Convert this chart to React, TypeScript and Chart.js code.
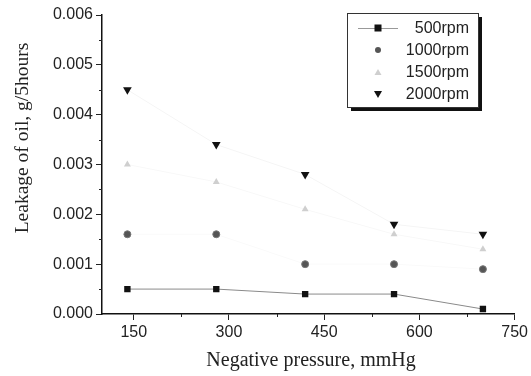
import React, { useEffect, useRef } from "react";
import { Chart, registerables } from "chart.js";

Chart.register(...registerables);

const pressures = [140, 280, 420, 560, 700];
const rpm500 = [0.0005, 0.0005, 0.0004, 0.0004, 0.0001];
const rpm1000 = [0.0016, 0.0016, 0.001, 0.001, 0.0009];
const rpm1500 = [0.003, 0.00265, 0.0021, 0.0016, 0.0013];
const rpm2000 = [0.0045, 0.0034, 0.0028, 0.0018, 0.0016];
const seriesNames = ["500rpm", "1000rpm", "1500rpm", "2000rpm"];
const xTitle = "Negative pressure, mmHg";
const yTitle = "Leakage of oil, g/5hours";

const toPts = (ys: number[]) => pressures.map((x, i) => ({ x, y: ys[i] }));

const decorPlugin = {
  id: "decor",
  afterDraw(chart: any) {
    const ctx = chart.ctx;
    const xs = chart.scales.x;
    const ys = chart.scales.y;
    const ca = chart.chartArea;
    ctx.save();
    // minor ticks
    ctx.strokeStyle = "#222";
    ctx.lineWidth = 1;
    for (let v = 225; v < 750; v += 150) {
      const px = Math.round(xs.getPixelForValue(v)) + 0.5;
      ctx.beginPath();
      ctx.moveTo(px, ca.bottom);
      ctx.lineTo(px, ca.bottom + 3);
      ctx.stroke();
    }
    for (let v = 0.0005; v < 0.006; v += 0.001) {
      const py = Math.round(ys.getPixelForValue(v)) + 0.5;
      ctx.beginPath();
      ctx.moveTo(ca.left, py);
      ctx.lineTo(ca.left - 3, py);
      ctx.stroke();
    }
    // axis titles
    ctx.fillStyle = "#222";
    ctx.font = "20px 'Liberation Serif', serif";
    ctx.textAlign = "center";
    ctx.textBaseline = "middle";
    ctx.fillText(xTitle, 311, 361);
    ctx.save();
    ctx.translate(23, 138);
    ctx.rotate(-Math.PI / 2);
    ctx.font = "19.5px 'Liberation Serif', serif";
    ctx.fillText(yTitle, 0, 0);
    ctx.restore();

    // legend
    const bx = 347, by = 13, bw = 131, bh = 94;
    ctx.fillStyle = "#111";
    ctx.fillRect(bx + 4, by + 4, bw, bh);
    ctx.fillStyle = "#fff";
    ctx.fillRect(bx, by, bw, bh);
    ctx.strokeStyle = "#333";
    ctx.lineWidth = 1;
    ctx.strokeRect(bx + 0.5, by + 0.5, bw, bh);
    const rowsY = [28, 50, 72, 94];
    const mx = 378;
    ctx.font = "16px 'Liberation Sans', Arial, sans-serif";
    ctx.textAlign = "right";
    ctx.textBaseline = "middle";
    rowsY.forEach((ry, i) => {
      if (i === 0) {
        ctx.strokeStyle = "#999";
        ctx.beginPath();
        ctx.moveTo(358, ry + 0.5);
        ctx.lineTo(398, ry + 0.5);
        ctx.stroke();
      }
      const ds = chart.data.datasets[i];
      ctx.fillStyle = ds.pointBackgroundColor;
      if (i === 0) {
        ctx.fillRect(mx - 3.5, ry - 3.5, 7, 7);
      } else if (i === 1) {
        ctx.beginPath();
        ctx.arc(mx, ry, 3, 0, Math.PI * 2);
        ctx.fill();
      } else if (i === 2) {
        ctx.beginPath();
        ctx.moveTo(mx, ry - 3);
        ctx.lineTo(mx + 3.5, ry + 3);
        ctx.lineTo(mx - 3.5, ry + 3);
        ctx.closePath();
        ctx.fill();
      } else {
        ctx.beginPath();
        ctx.moveTo(mx, ry + 4);
        ctx.lineTo(mx + 4, ry - 3);
        ctx.lineTo(mx - 4, ry - 3);
        ctx.closePath();
        ctx.fill();
      }
      ctx.fillStyle = "#222";
      ctx.fillText(seriesNames[i], 469, ry + 1);
    });
    ctx.restore();
  },
};

export default function App() {
  const ref = useRef<HTMLCanvasElement>(null);
  useEffect(() => {
    document.body.style.margin = "0";
    const tickFont = { family: "'Liberation Sans', Arial, sans-serif", size: 16 };
    const chart = new Chart(ref.current!, {
      type: "scatter",
      data: {
        datasets: [
          {
            label: seriesNames[0],
            data: toPts(rpm500),
            showLine: true,
            borderColor: "#8a8a8a",
            borderWidth: 1,
            pointStyle: "rect",
            pointRadius: 4.5,
            pointBackgroundColor: "#111",
            pointBorderColor: "#111",
            pointBorderWidth: 0,
          },
          {
            label: seriesNames[1],
            data: toPts(rpm1000),
            showLine: true,
            borderColor: "#fafafa",
            borderWidth: 1,
            pointStyle: "circle",
            pointRadius: 3.5,
            pointBackgroundColor: "#555",
            pointBorderColor: "#777",
            pointBorderWidth: 1,
          },
          {
            label: seriesNames[2],
            data: toPts(rpm1500),
            showLine: true,
            borderColor: "#f8f8f8",
            borderWidth: 1,
            pointStyle: "triangle",
            pointRadius: 4,
            pointBackgroundColor: "#cfcfcf",
            pointBorderColor: "#dcdcdc",
            pointBorderWidth: 0,
          },
          {
            label: seriesNames[3],
            data: toPts(rpm2000),
            showLine: true,
            borderColor: "#f5f5f5",
            borderWidth: 1,
            pointStyle: "triangle",
            rotation: 180,
            pointRadius: 5,
            pointBackgroundColor: "#111",
            pointBorderColor: "#111",
            pointBorderWidth: 0,
          },
        ],
      },
      options: {
        animation: false,
        responsive: false,
        layout: { padding: { left: 0, top: 15, right: 13, bottom: 0 } },
        plugins: { legend: { display: false }, tooltip: { enabled: false } },
        scales: {
          x: {
            type: "linear",
            min: 100,
            max: 750,
            afterFit: (s: any) => { s.height = 62; },
            afterBuildTicks: (s: any) => {
              s.ticks = [150, 300, 450, 600, 750].map((v) => ({ value: v }));
            },
            ticks: { color: "#222", font: tickFont, padding: 3, maxRotation: 0 },
            grid: { drawOnChartArea: false, drawTicks: true, tickLength: 6, color: "#222", tickColor: "#222" },
            border: { display: true, color: "#111", width: 1.5 },
          },
          y: {
            type: "linear",
            min: 0,
            max: 0.006,
            afterFit: (s: any) => { s.width = 102; },
            afterBuildTicks: (s: any) => {
              s.ticks = [0, 0.001, 0.002, 0.003, 0.004, 0.005, 0.006].map((v) => ({ value: v }));
            },
            ticks: {
              color: "#222",
              font: tickFont,
              padding: 3,
              callback: (v: any) => Number(v).toFixed(3),
            },
            grid: { drawOnChartArea: false, drawTicks: true, tickLength: 6, color: "#222", tickColor: "#222" },
            border: { display: true, color: "#111", width: 1.5 },
          },
        },
      } as any,
      plugins: [decorPlugin],
    });
    return () => chart.destroy();
  }, []);
  return (
    <div style={{ position: "fixed", left: 0, top: 0, width: 531, height: 376, background: "#fff" }}>
      <canvas ref={ref} width={531} height={376} style={{ width: 531, height: 376, display: "block" }} />
    </div>
  );
}
